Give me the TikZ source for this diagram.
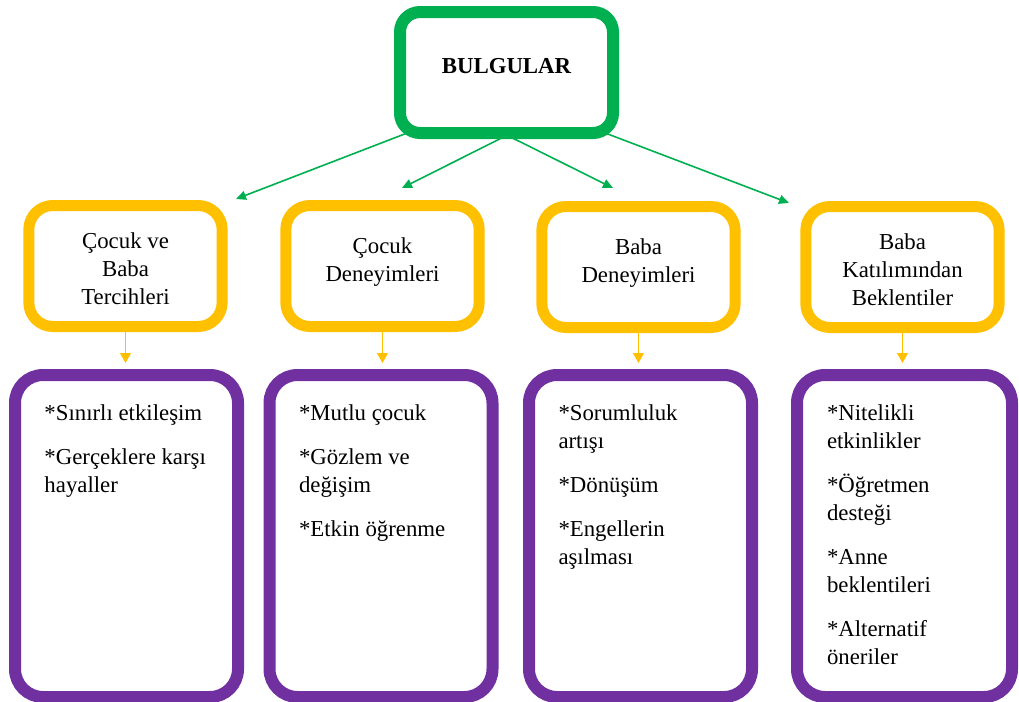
\documentclass[tikz,border=0pt]{standalone}
\usepackage{fontspec}
\setmainfont{Liberation Serif}
\usetikzlibrary{arrows.meta}

\definecolor{bgreen}{HTML}{00B050}
\definecolor{borange}{HTML}{FFC000}
\definecolor{bpurple}{HTML}{7030A0}

\begin{document}
\begin{tikzpicture}[x=0.5pt,y=-0.5pt,
  mainbox/.style={draw=bgreen,line width=6pt,rounded corners=10pt,fill=white,
    minimum width=106.5pt,minimum height=60.5pt,text depth=7pt,
    font=\fontsize{11.4}{14}\selectfont\bfseries},
  themebox/.style={draw=borange,line width=5.5pt,rounded corners=12pt,fill=white,
    minimum width=95pt,minimum height=60.5pt,text width=90pt,align=flush center,
    text height=9pt,text depth=22pt,font=\fontsize{11.4}{14}\selectfont},
  findbox/.style={draw=bpurple,line width=6pt,rounded corners=14pt,fill=white,
    minimum width=111.5pt,minimum height=161pt,text width=82pt,align=flush left,
    text height=8pt,text depth=124pt,font=\fontsize{11.4}{14}\selectfont},
  garrow/.style={draw=bgreen,line width=0.8pt,-{Triangle[length=5pt,width=4.5pt]}},
  oarrow/.style={draw=borange,line width=0.6pt,-{Triangle[length=5pt,width=5.5pt]},shorten >=3pt}]

  \useasboundingbox (0,0) rectangle (1019,702);

% top box
  \node[mainbox] (bulgular) at (506.5,72.5) {BULGULAR};

% themes
  \node[themebox,text depth=27pt] (tema1) at (125.5,266) {Çocuk ve\\Baba\\Tercihleri};
  \node[themebox] (tema2) at (382.5,266) {Çocuk\\Deneyimleri};
  \node[themebox] (tema3) at (638.5,267) {Baba\\Deneyimleri};
  \node[themebox,text depth=27pt] (tema4) at (902.5,267) {Baba\\Katılımından\\Beklentiler};

% findings
  \node[findbox] (bulgu1) at (126.5,536) {*Sınırlı etkileşim\\[8pt]*Gerçeklere karşı\\hayaller};
  \node[findbox] (bulgu2) at (381,536) {*Mutlu çocuk\\[8pt]*Gözlem ve\\değişim\\[8pt]*Etkin öğrenme};
  \node[findbox] (bulgu3) at (640.5,536) {*Sorumluluk\\artışı\\[8pt]*Dönüşüm\\[8pt]*Engellerin\\aşılması};
  \node[findbox,minimum width=107.5pt,text width=77.5pt] (bulgu4) at (904.5,536)
    {*Nitelikli\\etkinlikler\\[8pt]*Öğretmen\\desteği\\[8pt]*Anne\\beklentileri\\[8pt]*Alternatif\\öneriler};

% green arrows
  \coordinate (uc1) at (236,199);
  \coordinate (uc2) at (402,188);
  \coordinate (uc3) at (613,188);
  \coordinate (uc4) at (789,203);
  \draw[garrow] ([shift={(-98,60)}]bulgular.center) -- (uc1);
  \draw[garrow] ([shift={(-2,64)}]bulgular.center) -- (uc2);
  \draw[garrow] ([shift={(5,65)}]bulgular.center) -- (uc3);
  \draw[garrow] ([shift={(100,61)}]bulgular.center) -- (uc4);

% orange arrows
  \foreach \i in {1,...,4}
    \draw[oarrow] (tema\i.south) -- (tema\i.south |- bulgu\i.north);

\end{tikzpicture}
\end{document}
